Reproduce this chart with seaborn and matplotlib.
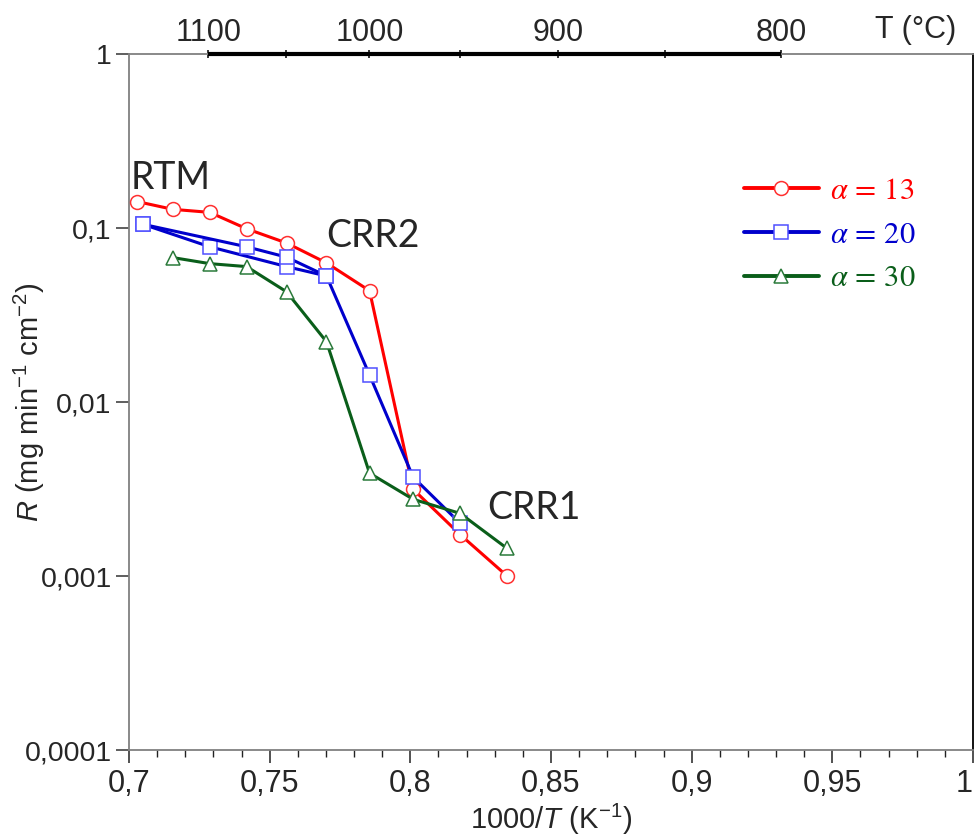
import numpy as np
import pandas as pd
import matplotlib
matplotlib.use("Agg")
import matplotlib.pyplot as plt
import seaborn as sns
from matplotlib import font_manager as fm
from matplotlib.ticker import FixedLocator, FixedFormatter, NullLocator

# ---------------- data ----------------
x_a13 = [0.7028, 0.7156, 0.7287, 0.7418, 0.7560, 0.7702, 0.7855, 0.8010, 0.8177, 0.8344]
r_a13 = [0.142, 0.128, 0.123, 0.099, 0.082, 0.063, 0.0436, 0.00315, 0.00173, 0.00100]

x_a20 = [0.7050, 0.7287, 0.7560, 0.7702, 0.7855, 0.8010, 0.8177]
r_a20 = [0.105, 0.078, 0.060, 0.053, 0.0143, 0.0037, 0.00201]
# second run of alpha = 20 (same colour)
x_a20b = [0.7050, 0.7418, 0.7560, 0.7702]
r_a20b = [0.105, 0.078, 0.068, 0.053]

x_a30 = [0.7156, 0.7287, 0.7418, 0.7560, 0.7702, 0.7855, 0.8010, 0.8177, 0.8344]
r_a30 = [0.0676, 0.0624, 0.060, 0.043, 0.0222, 0.0039, 0.00276, 0.00229, 0.00144]

labels = [r"$\alpha\,=\,13$", r"$\alpha\,=\,20$", r"$\alpha\,=\,30$"]
y_ticks = [1e-4, 1e-3, 1e-2, 1e-1, 1]
y_ticklabels = ["0,0001", "0,001", "0,01", "0,1", "1"]
x_ticks = [0.7, 0.75, 0.8, 0.85, 0.9, 0.95, 1.0]
x_ticklabels = ["0,7", "0,75", "0,8", "0,85", "0,9", "0,95", "1"]
t_ticks = [1100, 1000, 900, 800]
t_minor = [1050, 950, 850]
annotations = [("RTM", 0.7007, 0.1667), ("CRR2", 0.7702, 0.0782), ("CRR1", 0.8273, 0.00214)]

# ---------------- style ----------------
sns.set_theme(style="white")
names = {f.name for f in fm.fontManager.ttflist}
narrow = "Liberation Sans Narrow" if "Liberation Sans Narrow" in names else "Liberation Sans"
plt.rcParams["font.family"] = ["Liberation Sans", "DejaVu Sans"]
plt.rcParams["mathtext.fontset"] = "custom"
plt.rcParams["mathtext.rm"] = "Liberation Sans"
plt.rcParams["mathtext.it"] = "Liberation Sans:italic"

RED, BLUE, GREEN = "#ff0000", "#0000cc", "#0a5e1a"
RED_E, BLUE_E, GREEN_E = "#ff3030", "#5050ff", "#2a7a3a"

fig = plt.figure(figsize=(9.78, 8.40), dpi=100)
ax = fig.add_axes([129 / 978, 1 - 750 / 840, (973 - 129) / 978, (750 - 54) / 840])

def draw(xs, ys, color, ecolor, marker, ms, label):
    df = pd.DataFrame({"x": xs, "y": ys})
    sns.lineplot(data=df, x="x", y="y", ax=ax, estimator=None, sort=False,
                 color=color, lw=2.2, marker=marker, markersize=ms,
                 markerfacecolor="white", markeredgecolor=ecolor,
                 markeredgewidth=1.1, label=label, zorder=3)

draw(x_a13, r_a13, RED, RED_E, "o", 10, labels[0])
draw(x_a20, r_a20, BLUE, BLUE_E, "s", 10, labels[1])
draw(x_a20b, r_a20b, BLUE, BLUE_E, "s", 10, None)
draw(x_a30, r_a30, GREEN, GREEN_E, "^", 10, labels[2])

ax.set_yscale("log")
ax.set_xlim(0.7, 1.0)
ax.set_ylim(1e-4, 1)

ax.yaxis.set_major_locator(FixedLocator(y_ticks))
ax.yaxis.set_major_formatter(FixedFormatter(y_ticklabels))
ax.yaxis.set_minor_locator(NullLocator())
ax.xaxis.set_major_locator(FixedLocator(x_ticks))
ax.xaxis.set_major_formatter(FixedFormatter(x_ticklabels))
ax.xaxis.set_minor_locator(FixedLocator(np.arange(0.70, 1.0001, 0.01)))

ax.tick_params(axis="y", which="major", direction="out", length=9.5, width=1.1,
               color="#333333", labelsize=20.5, pad=3, left=True)
ax.tick_params(axis="x", which="major", direction="out", length=9.5, width=1.1,
               color="#222222", labelsize=22, pad=4, bottom=True)
ax.tick_params(axis="x", which="minor", direction="out", length=5, width=1.0,
               color="#222222", bottom=True)
xlabs = ax.get_xticklabels()
for lab in xlabs:
    lab.set_family([narrow, "DejaVu Sans"])
xlabs[-1].set_horizontalalignment("right")

for s in ["left", "bottom", "top"]:
    ax.spines[s].set_color("#808080")
    ax.spines[s].set_linewidth(1.3)
ax.spines["right"].set_color("black")
ax.spines["right"].set_linewidth(1.3)

ax.set_xlabel(r"1000/$\mathit{T}$ (K$^{-1}$)", fontsize=21,
              family=[narrow, "DejaVu Sans"], labelpad=2)
ax.set_ylabel(r"$\mathit{R}$ (mg min$^{-1}$ cm$^{-2}$)", fontsize=21)
ax.yaxis.set_label_coords((47 - 129) / 844, 0.5)

# top temperature axis
def inv2t(x):
    x = np.asarray(x, dtype=float)
    with np.errstate(divide="ignore"):
        return 1000.0 / x - 273.15

def t2inv(t):
    t = np.asarray(t, dtype=float)
    return 1000.0 / (t + 273.15)

sec = ax.secondary_xaxis("top", functions=(inv2t, t2inv))
sec.xaxis.set_major_locator(FixedLocator(t_ticks))
sec.xaxis.set_minor_locator(FixedLocator(t_minor))
sec.tick_params(which="both", direction="inout", length=6, width=1.1, color="black",
                labelsize=22, pad=1)
sec.spines["top"].set_visible(False)
for lab in sec.get_xticklabels():
    lab.set_family([narrow, "DejaVu Sans"])
ax.plot([t2inv(t_ticks[0]), t2inv(t_ticks[-1])], [1, 1], color="black", lw=3.0,
        clip_on=False, zorder=5, solid_capstyle="butt")
fig.text(916 / 978, 1 - 38 / 840, "T (°C)", fontsize=22, ha="center", va="baseline",
         family=[narrow, "DejaVu Sans"])

for txt, tx, ty in annotations:
    ax.text(tx, ty, txt, fontsize=27, family=["Lato", "DejaVu Sans"],
            ha="left", va="baseline", zorder=6)

leg = ax.legend(loc="upper left", bbox_to_anchor=(744 / 978, 1 - 176 / 840),
                bbox_transform=fig.transFigure, frameon=False, fontsize=22,
                handlelength=2.45, handletextpad=0.35, labelspacing=0.45,
                borderpad=0, borderaxespad=0)
for t, c in zip(leg.get_texts(), [RED, BLUE, GREEN]):
    t.set_color(c)
    t.set_math_fontfamily("stix")
for h in leg.get_lines():
    h.set_linewidth(2.8)

fig.savefig("out.png", dpi=100)
